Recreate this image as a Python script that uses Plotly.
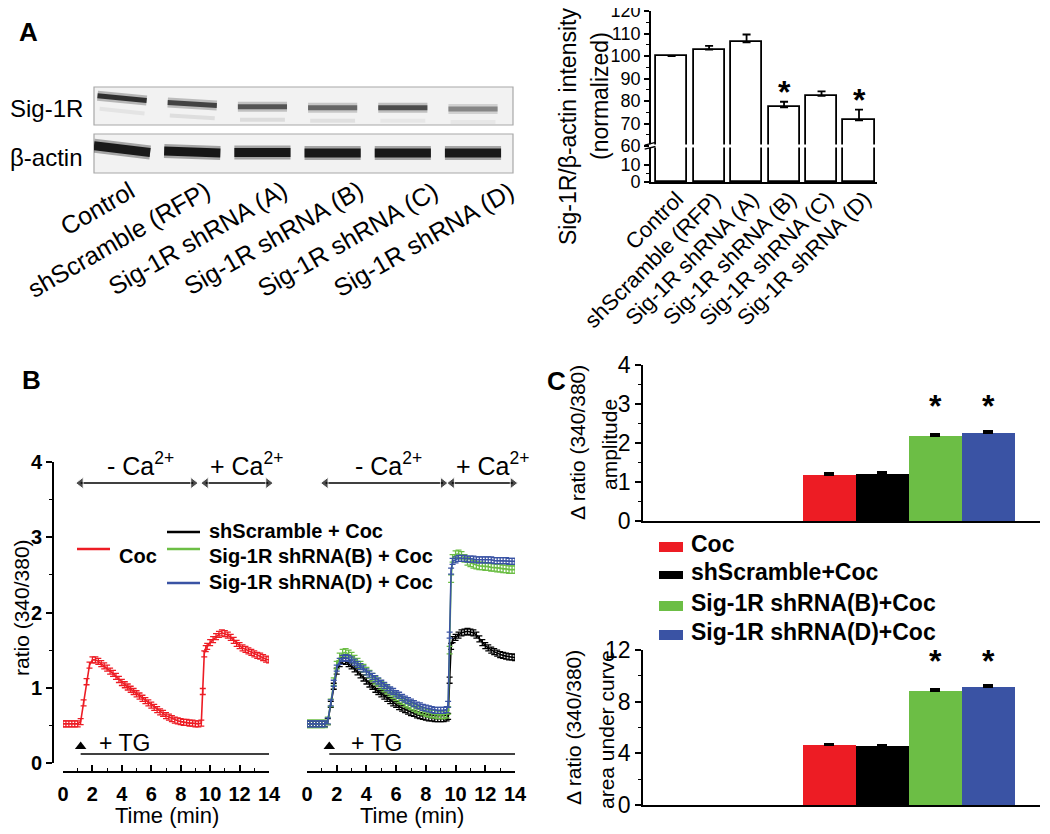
import plotly.graph_objects as go

# The page body adds an 8px offset, so the figure is placed to land on the reference pixels.
OFF = 8
W, H = 1050 - OFF, 834 - OFF
FONT = "Arial, 'Liberation Sans', sans-serif"


def pxx(x):
    return (x - OFF) / W


def pxy(y):
    return 1 - (y - OFF) / H


# ---------------- data ----------------
LANES = ["Control", "shScramble (RFP)", "Sig-1R shRNA (A)",
         "Sig-1R shRNA (B)", "Sig-1R shRNA (C)", "Sig-1R shRNA (D)"]
# relative band darkness read from the blot (0 = none, 1 = black)
SIG1R_BAND = [0.86, 0.78, 0.70, 0.62, 0.74, 0.48]
SIG1R_LOWER_BAND = [0.06, 0.09, 0.10, 0.08, 0.05, 0.05]
ACTIN_BAND = [0.96, 0.98, 0.97, 0.97, 0.97, 0.96]

NORM_INTENSITY = [100, 102.9, 106.1, 77.2, 82.3, 71.4]
NORM_SEM = [0, 1.6, 3.5, 2.5, 2.0, 4.8]
NORM_SIG = [False, False, False, True, False, True]
NORM_TICKS = [0, 10, 60, 70, 80, 90, 100, 110, 120]
NORM_MINOR = [5, 65, 75, 85, 95, 105, 115]

TIME_MIN = [0.0, 0.2, 0.4, 0.6, 0.8, 1.0, 1.2, 1.4, 1.6, 1.8,
            2.0, 2.2, 2.4, 2.6, 2.8, 3.0, 3.2, 3.4, 3.6, 3.8,
            4.0, 4.2, 4.4, 4.6, 4.8, 5.0, 5.2, 5.4, 5.6, 5.8,
            6.0, 6.2, 6.4, 6.6, 6.8, 7.0, 7.2, 7.4, 7.6, 7.8,
            8.0, 8.2, 8.4, 8.6, 8.8, 9.0, 9.2, 9.4,
            9.5, 9.6, 9.7,
            9.8, 10.0, 10.2, 10.4, 10.6, 10.8, 11.0, 11.2, 11.4, 11.6, 11.8,
            12.0, 12.2, 12.4, 12.6, 12.8, 13.0, 13.2, 13.4, 13.6, 13.8, 14.0]

RATIO_COC = [.52, .52, .52, .52, .52, .52, .55, .80, 1.08, 1.30,
             1.37, 1.37, 1.35, 1.32, 1.29, 1.26, 1.22, 1.19, 1.15, 1.11,
             1.07, 1.04, 1.01, .98, .95, .92, .89, .86, .83, .80,
             .77, .74, .71, .68, .66, .63, .61, .59, .57, .56,
             .55, .54, .54, .53, .53, .52, .52, .53,
             .95, 1.45, 1.52,
             1.55, 1.60, 1.64, 1.68, 1.71, 1.73, 1.72, 1.70, 1.67, 1.63, 1.59,
             1.56, 1.53, 1.51, 1.49, 1.47, 1.45, 1.43, 1.42, 1.40, 1.38, 1.37]

RATIO_SCR = [.52, .52, .52, .52, .52, .52, .52, .55, .78, 1.02,
             1.22, 1.32, 1.36, 1.35, 1.32, 1.29, 1.25, 1.21, 1.17, 1.13,
             1.09, 1.05, 1.02, .98, .95, .92, .89, .86, .83, .80,
             .78, .75, .73, .71, .69, .67, .66, .64, .63, .62,
             .61, .60, .60, .59, .59, .59, .59, .60,
             .62, 1.10, 1.55,
             1.64, 1.67, 1.70, 1.73, 1.74, 1.75, 1.74, 1.73, 1.70, 1.65, 1.60,
             1.56, 1.53, 1.50, 1.48, 1.46, 1.44, 1.43, 1.42, 1.41, 1.41, 1.40]

RATIO_SHB = [.52, .52, .52, .52, .52, .52, .52, .56, .80, 1.08,
             1.30, 1.41, 1.46, 1.47, 1.45, 1.42, 1.38, 1.34, 1.30, 1.26,
             1.22, 1.18, 1.14, 1.10, 1.07, 1.03, 1.00, .97, .94, .91,
             .88, .85, .83, .80, .78, .76, .74, .72, .70, .69,
             .67, .66, .65, .65, .64, .64, .64, .65,
             .70, 1.50, 2.45,
             2.72, 2.77, 2.78, 2.76, 2.72, 2.68, 2.66, 2.64, 2.63, 2.62, 2.62,
             2.61, 2.61, 2.60, 2.60, 2.59, 2.59, 2.58, 2.58, 2.57, 2.57, 2.57]

RATIO_SHD = [.52, .52, .52, .52, .52, .52, .52, .56, .80, 1.06,
             1.26, 1.35, 1.39, 1.40, 1.39, 1.37, 1.34, 1.31, 1.28, 1.25,
             1.21, 1.18, 1.15, 1.12, 1.09, 1.06, 1.03, 1.00, .97, .95,
             .92, .90, .87, .85, .83, .81, .79, .77, .76, .74,
             .73, .72, .71, .70, .70, .70, .70, .71,
             .78, 1.70, 2.55,
             2.68, 2.70, 2.72, 2.72, 2.72, 2.71, 2.71, 2.71, 2.70, 2.70, 2.70,
             2.70, 2.70, 2.70, 2.69, 2.69, 2.69, 2.69, 2.69, 2.68, 2.68, 2.68]

SEM_COC, SEM_SCR, SEM_SHB, SEM_SHD = 0.04, 0.04, 0.05, 0.04

for s in (RATIO_COC, RATIO_SCR, RATIO_SHB, RATIO_SHD):
    if len(s) != len(TIME_MIN):
        raise ValueError(f"length mismatch {len(s)} vs {len(TIME_MIN)}")

C_GROUPS = ["Coc", "shScramble+Coc", "Sig-1R shRNA(B)+Coc", "Sig-1R shRNA(D)+Coc"]
C_AMPLITUDE = [1.19, 1.20, 2.17, 2.25]
C_AMPLITUDE_SEM = [0.04, 0.05, 0.05, 0.05]
C_AUC = [4.62, 4.54, 8.85, 9.16]
C_AUC_SEM = [0.10, 0.10, 0.12, 0.10]
C_SIG = [False, False, True, True]

# ---------------- styles ----------------
RED, BLACK, GREEN, BLUE = "#ED1C24", "#000000", "#6CBE45", "#3A53A4"
C_COLORS = [RED, BLACK, GREEN, BLUE]

BLOT_XDOM, BLOT_XR = [pxx(94), pxx(513)], [-0.4, 5.57]
A_XDOM, A_XR = [pxx(651), pxx(877)], [-0.55, 5.48]


def to_paper(dom, rng, v):
    return dom[0] + (v - rng[0]) / (rng[1] - rng[0]) * (dom[1] - dom[0])


fig = go.Figure()
shapes, annos = [], []


def gray(intensity):
    g = int(round(242 - 225 * intensity))
    return f"rgb({g},{g},{g})"


def ptext(text, x, y, size, bold=False, angle=0, xa="center", ya="middle"):
    font = dict(size=size, color="black")
    if bold:
        font["weight"] = "bold"
    annos.append(dict(text=text, xref="paper", yref="paper", x=x, y=y, xanchor=xa, yanchor=ya,
                      textangle=angle, showarrow=False, font=font))


# ---------------- Panel A: blot ----------------
SIG_ROW, LOWER_ROW, ACTIN_ROW = 0.0, 0.27, 1.0
SIG_DRIFT = [-0.10, 0.02, 0.08, 0.10, 0.10, 0.125]
SIG_TILT = [0.05, 0.03, 0.0, 0.0, 0.0, 0.0]
ACT_DRIFT = [-0.04, 0.02, 0.03, 0.04, 0.04, 0.04]
ACT_TILT = [0.07, 0.02, 0.0, 0.0, 0.0, 0.0]

shapes.append(dict(type="rect", xref="x domain", yref="y domain", x0=0, x1=1, y0=0.558, y1=1,
                   fillcolor="#f2f2f2", line=dict(color="#a8a8a8", width=1.2), layer="below"))
shapes.append(dict(type="rect", xref="x domain", yref="y domain", x0=0, x1=1, y0=0, y1=0.4535,
                   fillcolor="#f2f2f2", line=dict(color="#a8a8a8", width=1.2), layer="below"))


def band(i, row, inten, half, widths, tilt):
    for w, op in widths:
        fig.add_trace(go.Scatter(
            x=[i - half, i + half], y=[row - tilt, row + tilt], mode="lines",
            line=dict(color=gray(inten), width=w), opacity=op,
            xaxis="x", yaxis="y", showlegend=False, hoverinfo="skip"))


for i, lane in enumerate(LANES):
    band(i, LOWER_ROW + SIG_DRIFT[i], SIG1R_LOWER_BAND[i], 0.32, [(4, 1.0)], SIG_TILT[i])
    band(i, SIG_ROW + SIG_DRIFT[i], SIG1R_BAND[i], 0.35, [(10, 0.3), (5, 1.0)], SIG_TILT[i])
    band(i, ACTIN_ROW + ACT_DRIFT[i], ACTIN_BAND[i], 0.40, [(14, 0.35), (9, 1.0)], ACT_TILT[i])
    ptext(lane, to_paper(BLOT_XDOM, BLOT_XR, i + 0.29 + 0.08 * i), pxy(173), 25,
          angle=-30, xa="right", ya="top")

ptext("Sig-1R", pxx(8), pxy(108), 24, xa="left")
ptext("β-actin", pxx(8), pxy(157), 24, xa="left")

# ---------------- Panel A: bar chart (broken axis) ----------------
A_LOW_SCALE, A_BREAK_T = 0.756, 16.0


def a_axis(v):
    return v * A_LOW_SCALE if v <= 20 else A_BREAK_T + (v - 60)


fig.add_trace(go.Bar(
    x=list(range(len(LANES))), y=[a_axis(v) for v in NORM_INTENSITY], width=0.83,
    marker=dict(color="white", line=dict(color="black", width=1.8)),
    error_y=dict(type="data", symmetric=False,
                 array=[a_axis(v + e) - a_axis(v) for v, e in zip(NORM_INTENSITY, NORM_SEM)],
                 arrayminus=[0] * len(LANES), color="black", thickness=1.8, width=4),
    xaxis="x2", yaxis="y2", showlegend=False, hoverinfo="skip"))

for i, lane in enumerate(LANES):
    ptext(lane, to_paper(A_XDOM, A_XR, i + 0.52), pxy(184), 22, angle=-45, xa="right", ya="top")
    if NORM_SIG[i]:
        annos.append(dict(text="*", xref="x2", yref="y2", x=i,
                          y=a_axis(NORM_INTENSITY[i] + NORM_SEM[i]), yanchor="bottom",
                          xanchor="center", yshift=-10, showarrow=False,
                          font=dict(size=32, weight="bold", color="black")))

# break in bars and axis
shapes.append(dict(type="line", xref="x2 domain", yref="y2", x0=0.01, x1=1, y0=A_BREAK_T,
                   y1=A_BREAK_T, line=dict(color="white", width=3)))
shapes.append(dict(type="line", xref="x2 domain", yref="y2", x0=0, x1=0, y0=A_BREAK_T - 0.8,
                   y1=A_BREAK_T + 0.8, line=dict(color="white", width=4)))
for off in (-1.4, 0.4):
    shapes.append(dict(type="line", xref="x2 domain", yref="y2", x0=-0.028, x1=0.02,
                       y0=A_BREAK_T + off, y1=A_BREAK_T + off + 1.2,
                       line=dict(color="black", width=1.4)))

ptext("Sig-1R/β-actin intensity", pxx(568), pxy(127), 23, angle=-90)
ptext("(normalized)", pxx(600), pxy(96), 23, angle=-90)

# ---------------- Panel B: time courses ----------------
trace_style = dict(mode="lines", showlegend=False, hoverinfo="skip")
fig.add_trace(go.Scatter(x=TIME_MIN, y=RATIO_COC, line=dict(color=RED, width=1.6),
                         error_y=dict(type="constant", value=SEM_COC, color=RED, thickness=1.3, width=3),
                         xaxis="x3", yaxis="y3", **trace_style))
for ser, col, sem in ((RATIO_SCR, BLACK, SEM_SCR), (RATIO_SHB, GREEN, SEM_SHB), (RATIO_SHD, BLUE, SEM_SHD)):
    fig.add_trace(go.Scatter(x=TIME_MIN, y=ser, line=dict(color=col, width=1.6),
                             error_y=dict(type="constant", value=sem, color=col, thickness=1.3, width=3),
                             xaxis="x4", yaxis="y4", **trace_style))

CA_LEVEL = 3.72
TG_LEVEL = 0.12
for xa, ya, ca_minus, ca_plus, tg_t, tg_text_t, mc, pc in (
        ("x3", "y3", (0.95, 9.1), (9.45, 14.2), 1.2, 4.15, 5.3, 12.5),
        ("x4", "y4", (1.0, 9.4), (9.5, 14.1), 1.5, 4.7, 5.5, 12.5)):
    for (a, b) in (ca_minus, ca_plus):
        fig.add_trace(go.Scatter(
            x=[a + 0.25, b - 0.25], y=[CA_LEVEL, CA_LEVEL], mode="lines+markers",
            line=dict(color="black", width=1.5),
            marker=dict(symbol=["triangle-left", "triangle-right"], size=[10, 10], color="black"),
            xaxis=xa, yaxis=ya, showlegend=False, hoverinfo="skip", cliponaxis=False))
    for txt, xc in (("- Ca<sup>2+</sup>", mc), ("+ Ca<sup>2+</sup>", pc)):
        annos.append(dict(text=txt, xref=xa, yref=ya, x=xc, y=CA_LEVEL + 0.02, xanchor="center",
                          yanchor="bottom", showarrow=False, font=dict(size=25, color="black")))
    shapes.append(dict(type="line", xref=xa, yref=ya, x0=tg_t, x1=14, y0=TG_LEVEL, y1=TG_LEVEL,
                       line=dict(color="black", width=1.5)))
    fig.add_trace(go.Scatter(x=[tg_t], y=[TG_LEVEL + 0.1], mode="markers",
                             marker=dict(symbol="triangle-up", size=10, color="black"),
                             xaxis=xa, yaxis=ya, showlegend=False, hoverinfo="skip", cliponaxis=False))
    annos.append(dict(text="+ TG", xref=xa, yref=ya, x=tg_text_t, y=0.27, xanchor="center",
                      yanchor="middle", showarrow=False, font=dict(size=23, color="black")))

# B legend
B_LEG = [("Coc", RED, 77, 549, 117, 556),
         ("shScramble + Coc", BLACK, 167, 532, 207, 531),
         ("Sig-1R shRNA(B) + Coc", GREEN, 167, 549, 207, 556),
         ("Sig-1R shRNA(D) + Coc", BLUE, 167, 583, 207, 582)]
for name, col, lx, ly, tx, ty in B_LEG:
    shapes.append(dict(type="line", xref="paper", yref="paper", x0=pxx(lx), x1=pxx(lx + 33),
                       y0=pxy(ly), y1=pxy(ly), line=dict(color=col, width=2.5)))
    ptext(name, pxx(tx), pxy(ty), 20, bold=True, xa="left")

ptext("ratio (340/380)", pxx(21), pxy(608), 21, angle=-90)
ptext("Time (min)", pxx(167), pxy(815), 22)
ptext("Time (min)", pxx(412), pxy(815), 22)

# ---------------- Panel C ----------------
for vals, sems, xa, ya in ((C_AMPLITUDE, C_AMPLITUDE_SEM, "x5", "y5"), (C_AUC, C_AUC_SEM, "x6", "y6")):
    fig.add_trace(go.Bar(x=list(range(len(C_GROUPS))), y=vals, width=1.0,
                         marker=dict(color=C_COLORS, line=dict(width=0)),
                         error_y=dict(type="data", symmetric=False, array=sems,
                                      arrayminus=[0] * len(vals), color="black", thickness=2, width=5),
                         xaxis=xa, yaxis=ya, showlegend=False, hoverinfo="skip"))

for i, sig in enumerate(C_SIG):
    if sig:
        for xa, ya, yv in (("x5", "y5", 2.95), ("x6", "y6", 11.15)):
            annos.append(dict(text="*", xref=xa, yref=ya, x=i, y=yv, xanchor="center",
                              yanchor="middle", showarrow=False,
                              font=dict(size=32, weight="bold", color="black")))

C_LEG_Y = [544, 572, 603, 632]
for name, col, ty in zip(C_GROUPS, C_COLORS, C_LEG_Y):
    hh = 4 if col == BLACK else 5
    shapes.append(dict(type="rect", xref="paper", yref="paper", x0=pxx(659), x1=pxx(683),
                       y0=pxy(ty + 3 + hh), y1=pxy(ty + 3 - hh), fillcolor=col, line=dict(width=0)))
    ptext(name, pxx(689), pxy(ty), 23, bold=True, xa="left")

ptext("Δ ratio (340/380)", pxx(578), pxy(443), 21, angle=-90)
ptext("amplitude", pxx(609), pxy(445), 21, angle=-90)
ptext("Δ ratio (340/380)", pxx(573), pxy(728), 21, angle=-90)
ptext("area under curve", pxx(606), pxy(730), 21, angle=-90)

# panel letters
for letter, lx, ly in (("A", 28, 32), ("B", 31, 380), ("C", 556, 381)):
    ptext(letter, pxx(lx), pxy(ly), 26, bold=True)

# ---------------- axes ----------------
base = dict(showgrid=False, zeroline=False, linecolor="black", tickcolor="black", automargin=False)
bold20 = dict(size=20, weight="bold", color="black")

layout_axes = dict(
    xaxis=dict(domain=BLOT_XDOM, range=BLOT_XR, visible=False, anchor="y", **base),
    yaxis=dict(domain=[pxy(173), pxy(87)], range=[1.458, -0.333], visible=False, anchor="x", **base),
    xaxis2=dict(domain=A_XDOM, range=A_XR, anchor="y2", showline=True,
                linewidth=1.8, ticks="", showticklabels=False, **base),
    yaxis2=dict(domain=[pxy(182), pxy(11)], range=[0, 76.05], anchor="x2", showline=True, linewidth=1.8,
                tickmode="array", tickvals=[a_axis(v) for v in NORM_TICKS],
                ticktext=[str(v) for v in NORM_TICKS], ticks="outside", ticklen=5, tickwidth=1.5,
                tickfont=dict(size=18, color="black"), ticklabeloverflow="allow",
                minor=dict(tickmode="array", tickvals=[a_axis(v) for v in NORM_MINOR], ticks="outside",
                           ticklen=3, tickwidth=1.2, tickcolor="black"), **base),
    xaxis3=dict(domain=[pxx(63), pxx(269)], range=[0, 14], anchor="free", position=pxy(772),
                showline=True, linewidth=1.8, ticks="inside", ticklen=6, tickwidth=1.5, dtick=2, tick0=0,
                minor=dict(dtick=1, ticks="inside", ticklen=3.5, tickwidth=1.2, tickcolor="black"),
                tickfont=bold20, ticklabelstandoff=4, **base),
    yaxis3=dict(domain=[pxy(763), pxy(462)], range=[0, 4], anchor="free", position=pxx(53),
                showline=True, linewidth=1.8, ticks="outside", ticklen=6, tickwidth=1.5, dtick=1,
                minor=dict(dtick=0.5, ticks="outside", ticklen=3.5, tickwidth=1.2, tickcolor="black"),
                tickfont=bold20, **base),
    xaxis4=dict(domain=[pxx(307), pxx(515)], range=[0, 14], anchor="free", position=pxy(772),
                showline=True, linewidth=1.8, ticks="inside", ticklen=6, tickwidth=1.5, dtick=2, tick0=0,
                minor=dict(dtick=1, ticks="inside", ticklen=3.5, tickwidth=1.2, tickcolor="black"),
                tickfont=bold20, ticklabelstandoff=4, **base),
    yaxis4=dict(domain=[pxy(763), pxy(462)], range=[0, 4], anchor="x4", visible=False, **base),
    xaxis5=dict(domain=[pxx(643), pxx(1040)], range=[-3.51, 3.98], anchor="y5", showline=True,
                linewidth=1.8, ticks="", showticklabels=False, **base),
    yaxis5=dict(domain=[pxy(521), pxy(365)], range=[0, 4], anchor="x5", showline=True, linewidth=1.8,
                ticks="outside", ticklen=6, tickwidth=1.5, dtick=1,
                minor=dict(dtick=0.5, ticks="outside", ticklen=3.5, tickwidth=1.2, tickcolor="black"),
                tickfont=dict(size=23, color="black"), **base),
    xaxis6=dict(domain=[pxx(643), pxx(1040)], range=[-3.51, 3.98], anchor="y6", showline=True,
                linewidth=1.8, ticks="", showticklabels=False, **base),
    yaxis6=dict(domain=[pxy(805), pxy(650)], range=[0, 12], anchor="x6", showline=True, linewidth=1.8,
                ticks="outside", ticklen=6, tickwidth=1.5, dtick=4,
                minor=dict(dtick=2, ticks="outside", ticklen=3.5, tickwidth=1.2, tickcolor="black"),
                tickfont=dict(size=23, color="black"), **base),
)

fig.update_layout(
    template="none",
    width=W, height=H, margin=dict(l=0, r=0, t=0, b=0, pad=0), autosize=False,
    paper_bgcolor="white", plot_bgcolor="white",
    font=dict(family=FONT, color="black"),
    showlegend=False, bargap=0,
    shapes=shapes, annotations=annos,
    **layout_axes,
)

fig.write_html("out.html")
